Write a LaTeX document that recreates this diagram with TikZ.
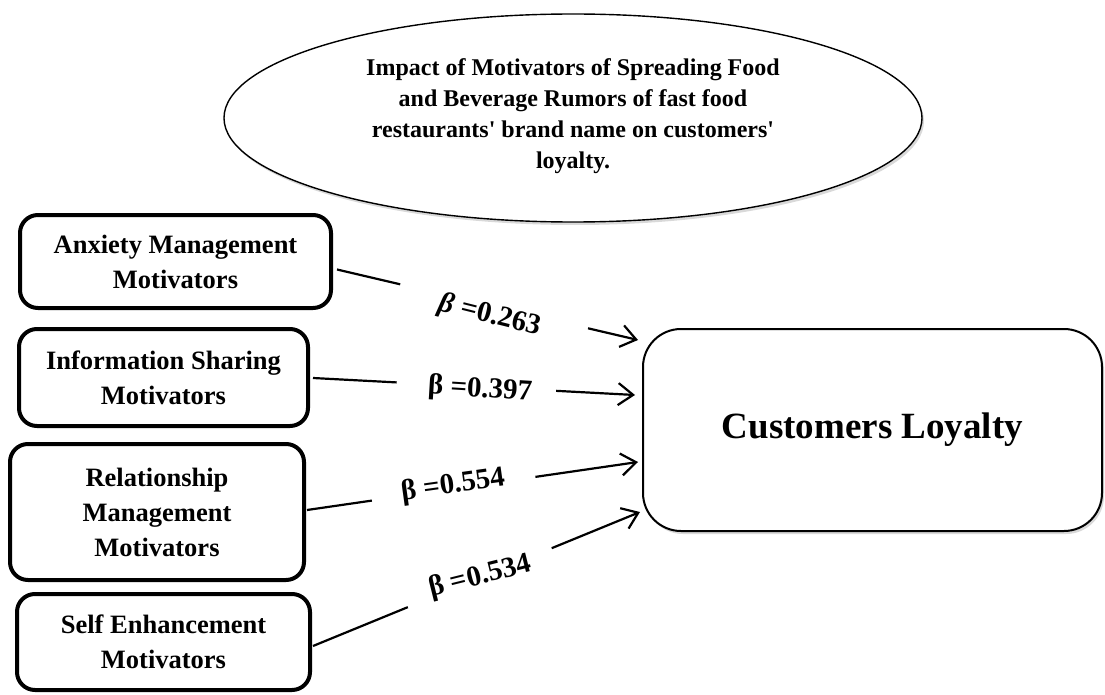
\documentclass[tikz,border=0pt]{standalone}
\usepackage{fontspec}
\setmainfont{Liberation Serif}
\usetikzlibrary{arrows.meta,shapes.geometric,calc,shadows}
\begin{document}
\begin{tikzpicture}[x=1pt,y=-1pt,
  mbox/.style={draw, line width=4pt, rounded corners=18pt, align=center, inner sep=0pt,
    font=\fontsize{26.5}{35}\selectfont\bfseries},
  clbox/.style={draw, line width=2pt, rounded corners=38pt, fill=white, inner sep=0pt,
    font=\fontsize{37}{40}\selectfont\bfseries,
    drop shadow={shadow xshift=2pt, shadow yshift=-3pt, opacity=0.3}},
  oval/.style={ellipse, draw, line width=1.4pt, fill=white, inner sep=0pt,
    drop shadow={shadow xshift=2pt, shadow yshift=-3pt, opacity=0.3}},
  otext/.style={align=center, inner sep=0pt, font=\fontsize{24}{31}\selectfont\bfseries},
  betalab/.style={inner sep=0pt, font=\fontsize{29}{29}\selectfont\bfseries},
  conn/.style={line width=2.2pt},
  arr/.style={-{Straight Barb[length=15pt,width=22pt]}}]
\useasboundingbox (0,0) rectangle (1105,695);

% title ellipse
\node[oval, minimum width=698, minimum height=208] (el) at (573,118) {};
\node[otext, anchor=north] (elt) at (573,58) {Impact of Motivators of Spreading Food\\and Beverage Rumors of fast food\\restaurants\textquotesingle{} brand name on customers\textquotesingle\\loyalty.};

% motivator boxes
\node[mbox, minimum width=311, minimum height=93] (b1) at (175.5,261.5) {Anxiety Management\\Motivators};
\node[mbox, minimum width=289, minimum height=97] (b2) at (163.5,377.5) {Information Sharing\\Motivators};
\node[mbox, minimum width=294, minimum height=136] (b3) at (157,512) {Relationship\\Management\\Motivators};
\node[mbox, minimum width=293, minimum height=96] (b4) at (163.5,642) {Self Enhancement\\Motivators};

% outcome box
\node[clbox, minimum width=459, minimum height=202] (cl) at (872.5,430) {Customers Loyalty};

% connector end points
\coordinate (s1) at ($(b1.east)+(4,8)$);
\coordinate (e1) at ($(cl.west)+(-4,-90)$);
\coordinate (s2) at ($(b2.east)+(3,0.5)$);
\coordinate (e2) at ($(cl.west)+(-7,-35)$);
\coordinate (s3) at ($(b3.east)+(1,-2)$);
\coordinate (e3) at ($(cl.west)+(-4,32)$);
\coordinate (s4) at ($(b4.east)+(1,4)$);
\coordinate (e4) at ($(cl.west)+(-2,82)$);

% connectors
\draw[conn] (s1) -- ($(s1)!0.21!(e1)$);
\draw[conn,arr] ($(s1)!0.834!(e1)$) -- (e1);
\draw[conn] (s2) -- ($(s2)!0.26!(e2)$);
\draw[conn,arr] ($(s2)!0.755!(e2)$) -- (e2);
\draw[conn] (s3) -- ($(s3)!0.196!(e3)$);
\draw[conn,arr] ($(s3)!0.69!(e3)$) -- (e3);
\draw[conn] (s4) -- ($(s4)!0.29!(e4)$);
\draw[conn,arr] ($(s4)!0.73!(e4)$) -- (e4);

% coefficients
\node[betalab, rotate=-14] (l1) at (490,316) {{\itshape β}~=0.263};
\node[betalab, rotate=-3.5] (l2) at (480,390) {β~=0.397};
\node[betalab, rotate=8] (l3) at (453,486) {β~=0.554};
\node[betalab, rotate=14] (l4) at (480,577) {β~=0.534};
\end{tikzpicture}
\end{document}
